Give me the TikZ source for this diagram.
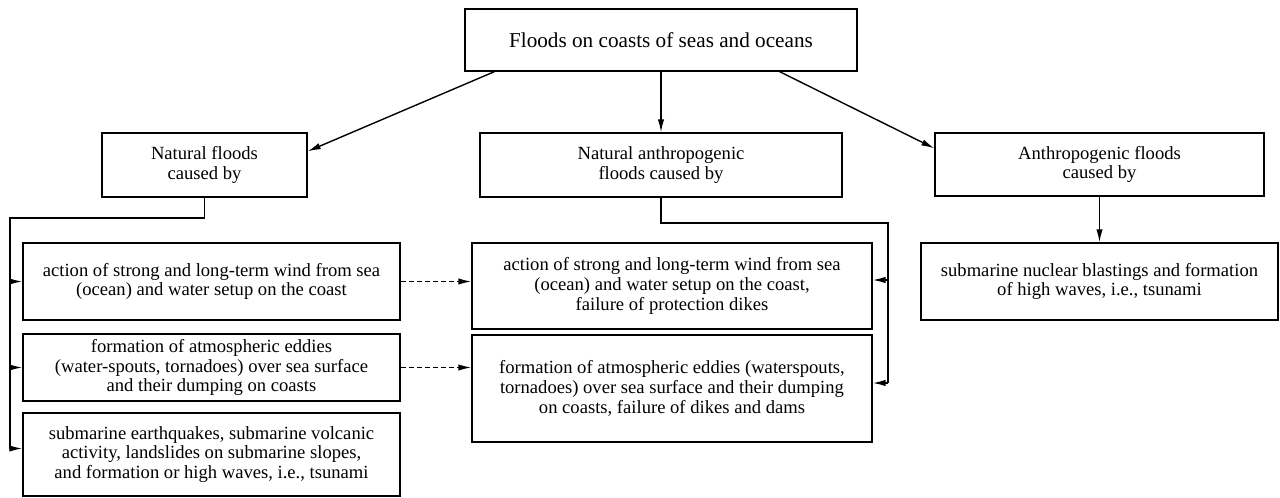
\documentclass[tikz,border=0pt]{standalone}
\usepackage{fontspec}
\setmainfont{Liberation Serif}
\usetikzlibrary{arrows.meta}
\tikzset{
 box/.style={draw,line width=0.7pt,align=center,inner sep=0pt,font=\fontsize{9.3}{9.9}\selectfont},
 wire/.style={line width=0.7pt},
 link/.style={line width=0.7pt,-{Latex[length=6.5pt,width=3.2pt]}},
 dashlink/.style={link,dash pattern=on 2.5pt off 1.5pt},
}
\begin{document}
\begin{tikzpicture}[x=0.5pt,y=-0.5pt]
\useasboundingbox (0,0) rectangle (1280,498);
\node[box,minimum width=196pt,minimum height=31pt,font=\fontsize{10.6}{12}\selectfont] (top) at (661,40) {Floods on coasts of seas and oceans};
\node[box,minimum width=102.5pt,minimum height=32pt] (nat) at (204.5,165) {Natural floods\\caused by};
\node[box,minimum width=181pt,minimum height=32pt] (natant) at (661,165) {Natural anthropogenic\\floods caused by};
\node[box,minimum width=164.5pt,minimum height=31.5pt] (ant) at (1099.5,164.5) {Anthropogenic floods\\caused by};
\node[box,minimum width=188.5pt,minimum height=38.5pt] (a1) at (211.5,281.5) {action of strong and long-term wind from sea\\(ocean) and water setup on the coast};
\node[box,minimum width=188.5pt,minimum height=33.5pt] (b1) at (211.5,367.5) {formation of atmospheric eddies\\(water-spouts, tornadoes) over sea surface\\and their dumping on coasts};
\node[box,minimum width=188.5pt,minimum height=41.5pt] (c1) at (211.5,454.5) {submarine earthquakes, submarine volcanic\\activity, landslides on submarine slopes,\\and formation or high waves, i.e., tsunami};
\node[box,minimum width=200pt,minimum height=43pt] (a2) at (672,286) {action of strong and long-term wind from sea\\(ocean) and water setup on the coast,\\failure of protection dikes};
\node[box,minimum width=200pt,minimum height=53.5pt] (b2) at (672,388.5) {formation of atmospheric eddies (waterspouts,\\tornadoes) over sea surface and their dumping\\on coasts, failure of dikes and dams};
\node[box,minimum width=178.5pt,minimum height=38.5pt] (r2) at (1099.5,281.5) {submarine nuclear blastings and formation\\of high waves, i.e., tsunami};
\coordinate (lbus) at (10,218);
\coordinate (mbus) at (888,223);
\coordinate (c1in) at ([yshift=3pt]c1.west);
\coordinate (a2in) at ([yshift=3pt]a2.east);
\coordinate (b2in) at ([yshift=2.75pt]b2.east);
\draw[link] ([xshift=15pt]top.south west) -- ([yshift=-9.5pt]nat.north east);
\draw[link] (top.south) -- (natant.north);
\draw[link] ([xshift=-39pt]top.south east) -- ([yshift=-8pt]ant.north west);
\draw[link] (ant.south) -- (r2.north);
\draw[wire] (nat.south) |- (lbus) -- (lbus |- c1in);
\draw[link] (lbus |- a1.west) -- (a1.west);
\draw[link] (lbus |- b1.west) -- (b1.west);
\draw[link] (lbus |- c1in) -- (c1in);
\draw[wire] (natant.south) |- (mbus) -- (mbus |- b2in);
\draw[link] (mbus |- a2in) -- (a2in);
\draw[link] (mbus |- b2in) -- (b2in);
\draw[dashlink] (a1.east) -- (a1.east -| a2.west);
\draw[dashlink] (b1.east) -- (b1.east -| b2.west);
\end{tikzpicture}
\end{document}
